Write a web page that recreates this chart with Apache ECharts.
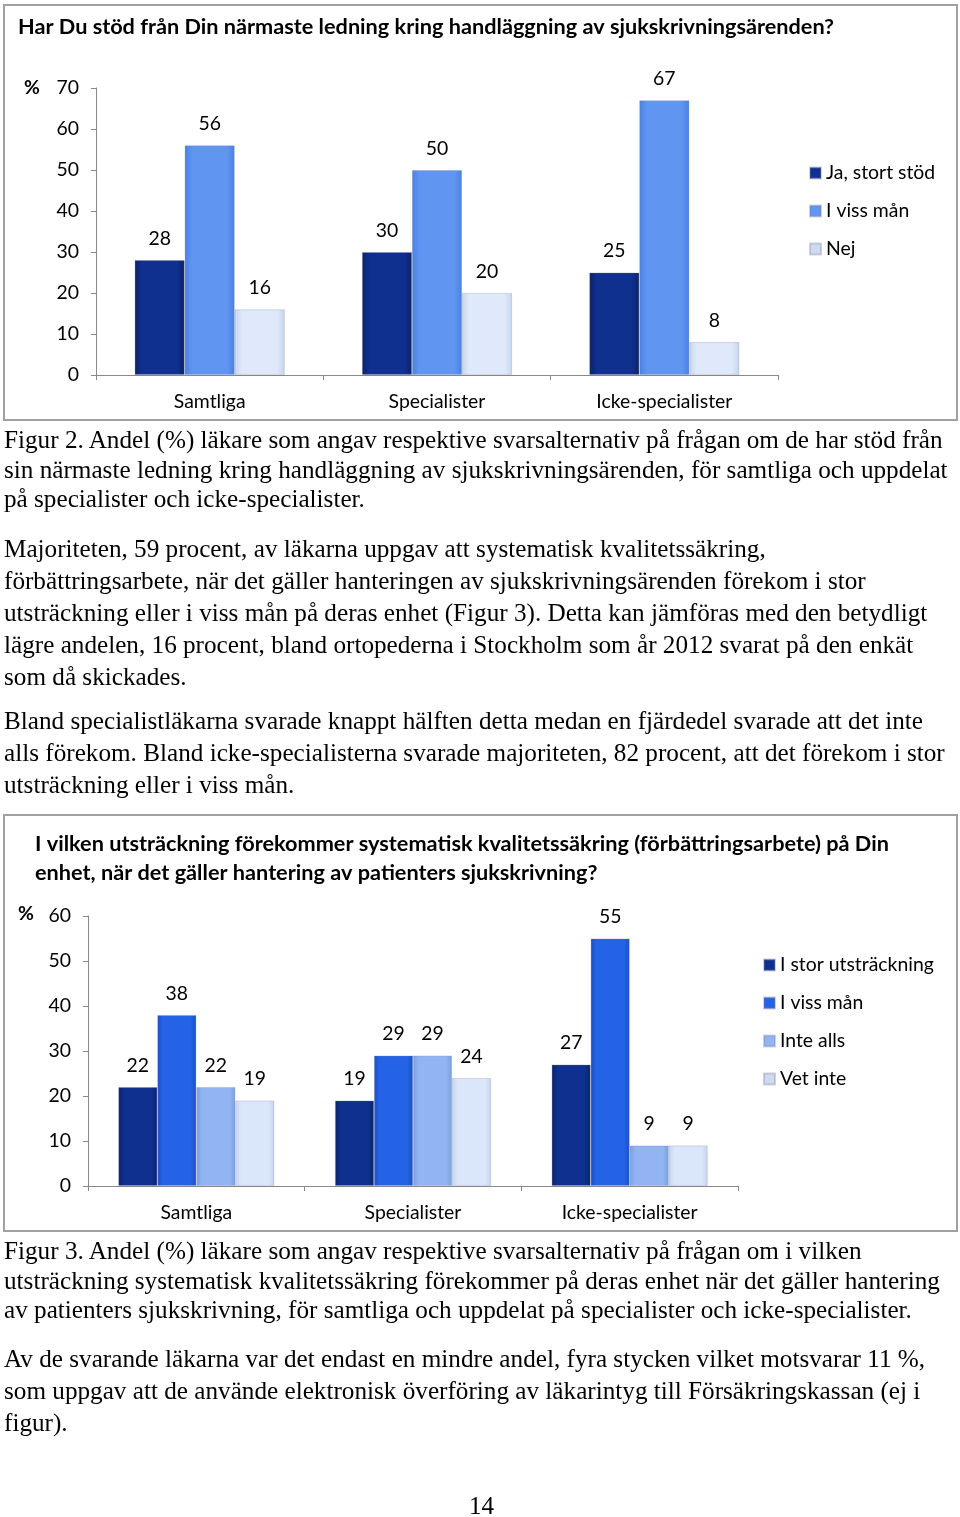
<!DOCTYPE html>
<html>
<head>
<meta charset="utf-8">
<script src="https://cdn.jsdelivr.net/npm/echarts@6/dist/echarts.min.js"></script>
<style>
  html, body { margin: 0; padding: 0; background: #fff; }
  #page { position: relative; width: 960px; height: 1517px; overflow: hidden; }
  #chart { position: absolute; left: 0; top: 0; width: 960px; height: 1517px; }
  .txt { position: absolute; left: 4px; font-family: "Liberation Serif", "Times New Roman", serif; font-size: 25.2px; color: #000; white-space: nowrap; }
</style>
</head>
<body>
<div id="page">
  <div id="chart"></div>
  <div class="txt" style="top:425px; line-height:29.5px;">Figur 2. Andel (%) läkare som angav respektive svarsalternativ på frågan om de har stöd från<br>sin närmaste ledning kring handläggning av sjukskrivningsärenden, för samtliga och uppdelat<br>på specialister och icke-specialister.</div>
  <div class="txt" style="top:533px; line-height:32px;">Majoriteten, 59 procent, av läkarna uppgav att systematisk kvalitetssäkring,<br>förbättringsarbete, när det gäller hanteringen av sjukskrivningsärenden förekom i stor<br>utsträckning eller i viss mån på deras enhet (Figur 3). Detta kan jämföras med den betydligt<br>lägre andelen, 16 procent, bland ortopederna i Stockholm som år 2012 svarat på den enkät<br>som då skickades.</div>
  <div class="txt" style="top:705px; line-height:32px;">Bland specialistläkarna svarade knappt hälften detta medan en fjärdedel svarade att det inte<br>alls förekom. Bland icke-specialisterna svarade majoriteten, 82 procent, att det förekom i stor<br>utsträckning eller i viss mån.</div>
  <div class="txt" style="top:1236px; line-height:29.5px;">Figur 3. Andel (%) läkare som angav respektive svarsalternativ på frågan om i vilken<br>utsträckning systematisk kvalitetssäkring förekommer på deras enhet när det gäller hantering<br>av patienters sjukskrivning, för samtliga och uppdelat på specialister och icke-specialister.</div>
  <div class="txt" style="top:1343px; line-height:32px;">Av de svarande läkarna var det endast en mindre andel, fyra stycken vilket motsvarar 11 %,<br>som uppgav att de använde elektronisk överföring av läkarintyg till Försäkringskassan (ej i<br>figur).</div>
  <div class="txt" style="top:1491px; left:469px; line-height:30px;">14</div>
</div>
<script>
// ---- Chart 1 data ----
const cat1 = ['Samtliga', 'Specialister', 'Icke-specialister'];
const names1 = ['Ja, stort stöd', 'I viss mån', 'Nej'];
const jaStortStod = [28, 30, 25];
const iVissMan1 = [56, 50, 67];
const nej = [16, 20, 8];
const title1 = 'Har Du stöd från Din närmaste ledning kring handläggning av sjukskrivningsärenden?';

// ---- Chart 2 data ----
const cat2 = ['Samtliga', 'Specialister', 'Icke-specialister'];
const names2 = ['I stor utsträckning', 'I viss mån', 'Inte alls', 'Vet inte'];
const iStorUtstrackning = [22, 19, 27];
const iVissMan2 = [38, 29, 55];
const inteAlls = [22, 29, 9];
const vetInte = [19, 24, 9];
const title2 = 'I vilken utsträckning förekommer systematisk kvalitetssäkring (förbättringsarbete) på Din\nenhet, när det gäller hantering av patienters sjukskrivning?';

const FONT = 'Lato, "Open Sans", sans-serif';
const FS = 19.4;

function grad(edge, mid) {
  return new echarts.graphic.LinearGradient(0, 0, 1, 0, [
    { offset: 0, color: edge }, { offset: 0.15, color: mid }, { offset: 0.85, color: mid }, { offset: 1, color: edge }
  ]);
}
const col1 = [
  { fill: grad('#0a2266', '#10308f'), legend: '#10308f' },
  { fill: grad('#4a7fe0', '#6096f2'), legend: '#6096f2' },
  { fill: grad('#c5d5ef', '#dfe9fb'), legend: '#cfdaf0' }
];
const col2 = [
  { fill: grad('#0a2266', '#10308f'), legend: '#10308f' },
  { fill: grad('#1a50c8', '#2563e6'), legend: '#2563e6' },
  { fill: grad('#7aa0e0', '#92b4f2'), legend: '#92b4f2' },
  { fill: grad('#c5d5ef', '#dae6fa'), legend: '#cfdaf0' }
];

function barSeries(name, data, c, xi, yi) {
  return {
    type: 'bar', name: name, data: data, xAxisIndex: xi, yAxisIndex: yi,
    barGap: '0%', barCategoryGap: xi === 0 ? '34%' : '28%',
    itemStyle: { color: c.fill, borderColor: 'rgba(120,130,160,0.35)', borderWidth: 0.8 },
    label: { show: true, position: 'top', distance: 12, fontFamily: FONT, fontSize: FS, color: '#000' }
  };
}

const axisLabelStyle = { fontFamily: FONT, fontSize: FS, color: '#000' };
const axisLineStyle = { lineStyle: { color: '#888', width: 1 } };

const chart = echarts.init(document.getElementById('chart'), null, { renderer: 'canvas' });
const option = {
  animation: false,
  backgroundColor: '#fff',
  title: [
    { text: title1, left: 18, top: 16, padding: 0, textStyle: { fontFamily: FONT, fontSize: 21.7, fontWeight: 'bold', color: '#000' } },
    { text: title2, left: 35, top: 830, padding: 0, textStyle: { fontFamily: FONT, fontSize: 21.7, fontWeight: 'bold', color: '#000', lineHeight: 29 } }
  ],
  legend: [
    { data: names1.map((n, i) => ({ name: n, itemStyle: { color: col1[i].legend } })), orient: 'vertical', left: 809, top: 163, itemWidth: 11, itemHeight: 11, itemGap: 18, padding: 0, icon: 'rect',
      textStyle: { fontFamily: FONT, fontSize: FS, color: '#000', lineHeight: 20 } },
    { data: names2.map((n, i) => ({ name: n, itemStyle: { color: col2[i].legend } })), orient: 'vertical', left: 763, top: 955, itemWidth: 11, itemHeight: 11, itemGap: 18, padding: 0, icon: 'rect',
      textStyle: { fontFamily: FONT, fontSize: FS, color: '#000', lineHeight: 20 } }
  ],
  grid: [
    { left: 96, top: 88, width: 682, height: 287 },
    { left: 88, top: 916, width: 650, height: 270 }
  ],
  xAxis: [
    { type: 'category', gridIndex: 0, data: cat1, axisLine: axisLineStyle, axisTick: { show: true, length: 5, lineStyle: { color: '#888' } }, axisLabel: Object.assign({ margin: 17 }, axisLabelStyle) },
    { type: 'category', gridIndex: 1, data: cat2, axisLine: axisLineStyle, axisTick: { show: true, length: 5, lineStyle: { color: '#888' } }, axisLabel: Object.assign({ margin: 17 }, axisLabelStyle) }
  ],
  yAxis: [
    { type: 'value', gridIndex: 0, min: 0, max: 70, interval: 10, axisLine: { show: true, lineStyle: { color: '#888' } }, axisTick: { show: true, length: 5, lineStyle: { color: '#888' } }, splitLine: { show: false }, axisLabel: Object.assign({ margin: 17 }, axisLabelStyle) },
    { type: 'value', gridIndex: 1, min: 0, max: 60, interval: 10, axisLine: { show: true, lineStyle: { color: '#888' } }, axisTick: { show: true, length: 5, lineStyle: { color: '#888' } }, splitLine: { show: false }, axisLabel: Object.assign({ margin: 17 }, axisLabelStyle) }
  ],
  graphic: [
    { type: 'rect', shape: { x: 4, y: 5, width: 953, height: 415 }, style: { fill: 'none', stroke: '#a0a0a0', lineWidth: 2 }, z: -1 },
    { type: 'rect', shape: { x: 4, y: 815, width: 953, height: 416 }, style: { fill: 'none', stroke: '#a0a0a0', lineWidth: 2 }, z: -1 },
    { type: 'text', left: 24, top: 78, style: { text: '%', font: 'bold ' + FS + 'px ' + FONT, fill: '#000' } },
    { type: 'text', left: 18, top: 904, style: { text: '%', font: 'bold ' + FS + 'px ' + FONT, fill: '#000' } }
  ],
  series: [
    barSeries(names1[0], jaStortStod, col1[0], 0, 0),
    barSeries(names1[1], iVissMan1, col1[1], 0, 0),
    barSeries(names1[2], nej, col1[2], 0, 0),
    barSeries(names2[0], iStorUtstrackning, col2[0], 1, 1),
    barSeries(names2[1], iVissMan2, col2[1], 1, 1),
    barSeries(names2[2], inteAlls, col2[2], 1, 1),
    barSeries(names2[3], vetInte, col2[3], 1, 1)
  ]
};
chart.setOption(option);
</script>
</body>
</html>
